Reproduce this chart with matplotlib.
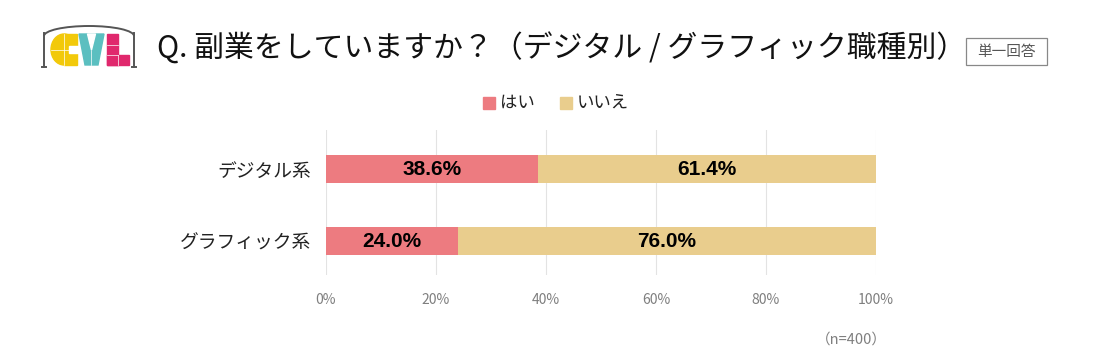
import matplotlib
matplotlib.use('Agg')
import matplotlib.pyplot as plt
from matplotlib.patches import Rectangle, Polygon, Arc, Ellipse

plt.rcParams['font.family'] = ['Noto Sans CJK JP', 'DejaVu Sans']

# data
categories = ['デジタル系', 'グラフィック系']
yes_vals = [38.6, 24.0]
no_vals = [61.4, 76.0]
series_names = ['はい', 'いいえ']
ticks = [0, 20, 40, 60, 80, 100]

c_yes = '#ED7B80'
c_no = '#E9CD8D'

W, H = 1100, 357
fig = plt.figure(figsize=(11, 3.57), dpi=100)

def fx(px):
    return px / W

def fy(py):
    return 1 - py / H

# main axes
ax = fig.add_axes([fx(326), fy(275), fx(550), (275 - 130) / H])
y = list(range(len(categories)))
ax.barh(y, yes_vals, height=0.39, color=c_yes, zorder=3)
ax.barh(y, no_vals, left=yes_vals, height=0.39, color=c_no, zorder=3)
for i in y:
    ax.text(yes_vals[i] / 2, i, f'{yes_vals[i]:.1f}%', ha='center', va='center',
            fontsize=15, fontweight='bold', family='Liberation Sans', zorder=4)
    ax.text(yes_vals[i] + no_vals[i] / 2, i, f'{no_vals[i]:.1f}%', ha='center', va='center',
            fontsize=15, fontweight='bold', family='Liberation Sans', zorder=4)
ax.set_xlim(0, 100)
ax.set_ylim(1.472, -0.542)
ax.set_xticks(ticks)
ax.set_xticklabels([f'{t}%' for t in ticks], color='#7f7f7f', fontsize=10)
ax.tick_params(axis='x', length=0, pad=13)
ax.set_yticks(y)
ax.set_yticklabels(categories, fontsize=13.5, color='#222222')
ax.tick_params(axis='y', length=0, pad=11)
ax.grid(axis='x', color='#e3e3e3', linewidth=0.8, zorder=0)
for s in ax.spines.values():
    s.set_visible(False)

# legend
fig.patches.append(Rectangle((fx(483), fy(109)), fx(12), 12 / H, color=c_yes, transform=fig.transFigure))
fig.text(fx(500), fy(103), series_names[0], fontsize=12.5, va='center', color='#222222')
fig.patches.append(Rectangle((fx(560), fy(109)), fx(12), 12 / H, color=c_no, transform=fig.transFigure))
fig.text(fx(577), fy(103), series_names[1], fontsize=12.5, va='center', color='#222222')

# title
fig.text(fx(157), fy(49), 'Q. 副業をしていますか？（デジタル / グラフィック職種別）',
         fontsize=21.5, va='center', color='#111111')
fig.patches.append(Rectangle((fx(966), fy(65)), fx(81), 27 / H, fc='white', ec='#888888',
                             lw=0.9, transform=fig.transFigure))
fig.text(fx(1006.5), fy(52), '単一回答', fontsize=10.5, ha='center', va='center', color='#555555')

# note
fig.text(fx(851), fy(340), '（n=400）', fontsize=10.5, ha='center', va='center', color='#7f7f7f')

# logo
lax = fig.add_axes([fx(38), fy(72), fx(102), 50 / H])
lax.set_xlim(38, 140)
lax.set_ylim(72, 22)
lax.axis('off')
gray = '#555555'
lax.plot([44, 44], [67, 33], color=gray, lw=1.4)
lax.plot([134, 134], [67, 33], color=gray, lw=1.4)
lax.plot([42, 46], [67, 67], color=gray, lw=1.4)
lax.plot([132, 136], [67, 67], color=gray, lw=1.4)
lax.add_patch(Arc((89, 36), 90, 20, theta1=180, theta2=360, color=gray, lw=1.4))
# C
yel = '#F2C90A'
lax.add_patch(Ellipse((64, 49.5), 26, 31, color=yel))
lax.add_patch(Rectangle((64, 34), 13, 31, color=yel))
lax.add_patch(Rectangle((69, 46), 9, 7, color='white'))
lax.plot([64, 64], [34, 65], color='white', lw=0.5)
lax.plot([51, 69], [49.5, 49.5], color='white', lw=0.5)
# W
teal = '#5BBFC0'
lax.add_patch(Polygon([[79, 34], [104, 34], [98, 65], [85, 65]], color=teal))
lax.add_patch(Polygon([[87.5, 34], [95.5, 34], [91.5, 50]], color='white'))
lax.plot([91.5, 91.5], [50, 65], color='white', lw=0.5)
# L
pink = '#E0286D'
lax.add_patch(Rectangle((107, 34), 11, 31, color=pink))
lax.add_patch(Rectangle((107, 55), 22, 10, color=pink))
lax.plot([118, 118], [55, 65], color='white', lw=0.5)
lax.plot([107, 118], [55, 55], color='white', lw=0.5)
lax.plot([107, 118], [44.5, 44.5], color='white', lw=0.5)

fig.savefig('out.png', dpi=100, facecolor='white')
